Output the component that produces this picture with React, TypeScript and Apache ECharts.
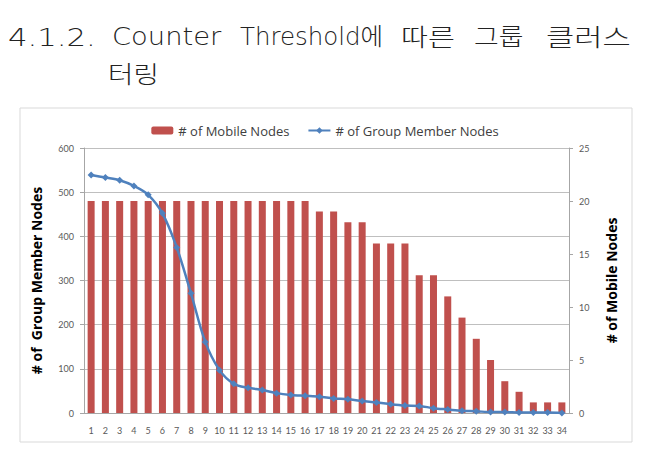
import React, { useEffect, useRef } from "react";
import * as echarts from "echarts";

const categories = Array.from({ length: 34 }, (_, i) => String(i + 1));
const mobileNodes = [20, 20, 20, 20, 20, 20, 20, 20, 20, 20, 20, 20, 20, 20, 20, 20, 19, 19, 18, 18, 16, 16, 16, 13, 13, 11, 9, 7, 5, 3, 2, 1, 1, 1];
const groupMemberNodes = [539, 533, 527, 514, 494, 452, 375, 271, 161, 97, 66, 57, 52, 45, 41, 39, 37, 33, 31, 27, 24, 20, 17, 16, 11, 8, 5, 4, 2, 2, 1, 1, 1, 0];
const titleWords1 = ["4.1.2.", "Counter", "Threshold에", "따른", "그룹", "클러스"];
const titleWords1X = [8, 112, 240, 401, 474, 546];
const titleWords1Scale = [1.28, 1.14, 1.02, 1.22, 1.12, 1.28];
const titleWords2 = ["터링"];
const legendNames = ["# of Mobile Nodes", "# of Group Member Nodes"];
const leftAxisName = "# of  Group Member Nodes";
const rightAxisName = "# of Mobile Nodes";

export default function App() {
  const ref = useRef<HTMLDivElement>(null);
  useEffect(() => {
    const chart = echarts.init(ref.current!, undefined, { renderer: "svg" });
    const titleFont = "'DejaVu Sans', 'Noto Sans CJK KR', sans-serif";
    const graphics: any[] = [
      {
        type: "rect",
        shape: { x: 20, y: 108, width: 612, height: 334 },
        style: { fill: "none", stroke: "#d9d9d9", lineWidth: 1 },
        z: 0,
      },
      ...titleWords1.map((w, i) => ({
        type: "text",
        x: titleWords1X[i],
        y: 37,
        scaleX: titleWords1Scale[i],
        style: { text: w, font: `300 24px ${titleFont}`, fill: "#222", textVerticalAlign: "middle" },
      })),
      ...titleWords2.map((w) => ({
        type: "text",
        x: 108,
        y: 75,
        scaleX: 1.15,
        style: { text: w, font: `300 24px ${titleFont}`, fill: "#222", textVerticalAlign: "middle" },
      })),
    ];
    const tickLabel = { color: "#595959", fontSize: 9, fontFamily: "Lato, sans-serif" };
    const axisTitle = { fontSize: 14, fontWeight: "bold", color: "#000", fontFamily: "'Open Sans', sans-serif" };
    chart.setOption({
      animation: false,
      backgroundColor: "#fff",
      graphic: graphics,
      legend: {
        data: legendNames,
        top: 119,
        left: "center",
        itemGap: 18,
        itemWidth: 22,
        itemHeight: 8,
        textStyle: { color: "#404040", fontSize: 13, fontFamily: "'Open Sans', sans-serif" },
      },
      grid: { left: 84, right: 81, top: 148, bottom: 40, containLabel: false },
      xAxis: {
        type: "category",
        data: categories,
        boundaryGap: true,
        axisLine: { lineStyle: { color: "#a6a6a6" } },
        axisTick: { show: false },
        axisLabel: { ...tickLabel, interval: 0, margin: 13 },
      },
      yAxis: [
        {
          type: "value",
          min: 0,
          max: 600,
          interval: 100,
          position: "left",
          name: leftAxisName,
          nameLocation: "middle",
          nameGap: 41,
          nameRotate: 90,
          nameTextStyle: axisTitle,
          axisLine: { show: true, lineStyle: { color: "#a6a6a6" } },
          axisTick: { show: true, length: 4, lineStyle: { color: "#a6a6a6" } },
          axisLabel: { ...tickLabel, margin: 10 },
          splitLine: { show: true, lineStyle: { color: "#bfbfbf" } },
        },
        {
          type: "value",
          min: 0,
          max: 25,
          interval: 5,
          position: "right",
          name: rightAxisName,
          nameLocation: "middle",
          nameGap: 35,
          nameRotate: 90,
          nameTextStyle: axisTitle,
          axisLine: { show: true, lineStyle: { color: "#a6a6a6" } },
          axisTick: { show: true, length: 4, lineStyle: { color: "#a6a6a6" } },
          axisLabel: { ...tickLabel, margin: 10 },
          splitLine: { show: false },
        },
      ],
      series: [
        {
          name: legendNames[0],
          type: "bar",
          yAxisIndex: 1,
          data: mobileNodes,
          barWidth: 7,
          itemStyle: { color: "#C0504D" },
          z: 2,
        },
        {
          name: legendNames[1],
          type: "line",
          yAxisIndex: 0,
          data: groupMemberNodes,
          smooth: 0.3,
          symbol: "diamond",
          symbolSize: 7,
          lineStyle: { color: "#4F81BD", width: 2.5 },
          itemStyle: { color: "#4F81BD" },
          z: 3,
        },
      ],
    });
    return () => chart.dispose();
  }, []);
  return <div ref={ref} style={{ width: 650, height: 453, position: "absolute", left: 0, top: 0 }} />;
}
